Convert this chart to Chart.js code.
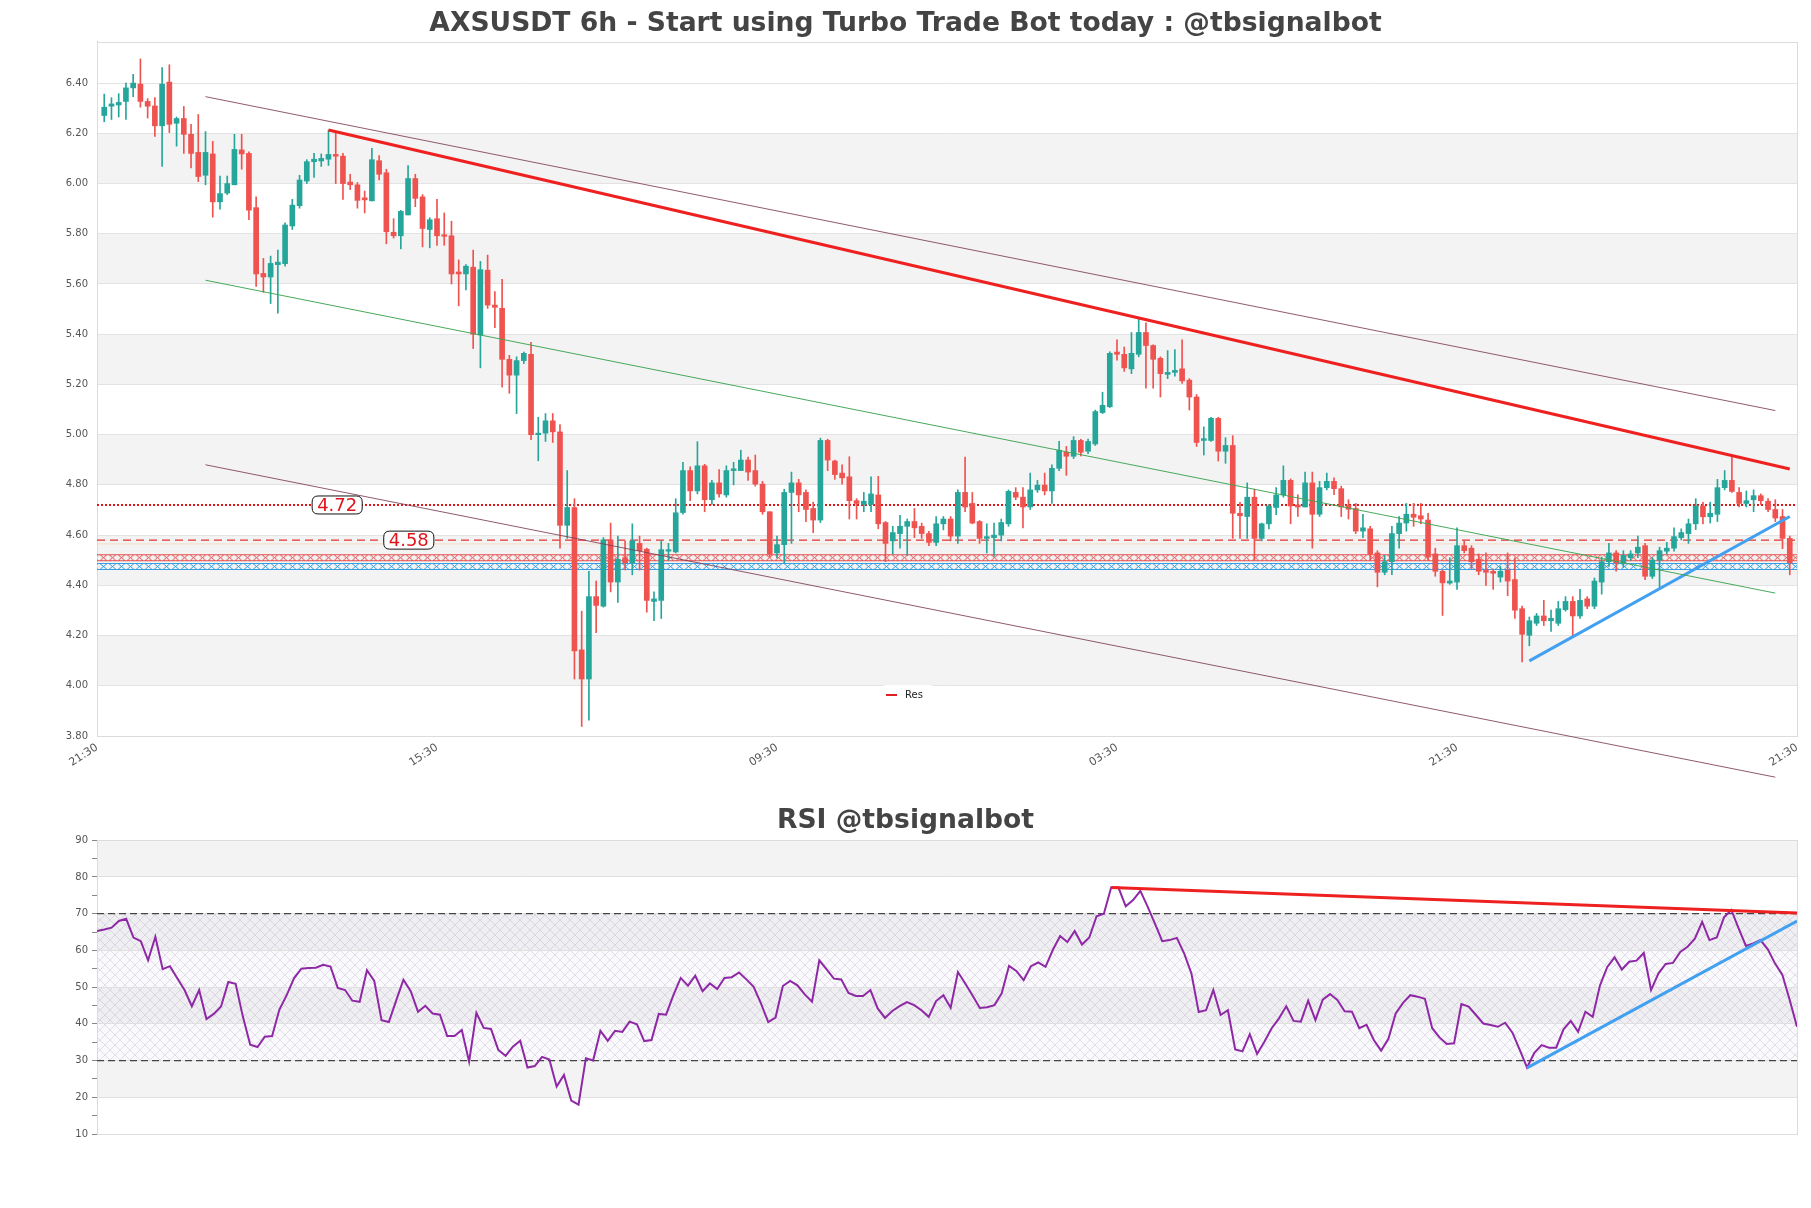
<!DOCTYPE html>
<html><head><meta charset="utf-8">
<script src="https://cdn.jsdelivr.net/npm/chart.js@4.4.0/dist/chart.umd.min.js"></script>
<style>
html,body{margin:0;padding:0;background:#fff;}
canvas{position:absolute;left:0;}
#c1{top:0;}
#c2{top:790px;}
</style></head><body>
<canvas id="c1" width="1811" height="800"></canvas>
<canvas id="c2" width="1811" height="418"></canvas>
<script>
const TITLE = 'AXSUSDT 6h - Start using Turbo Trade Bot today : @tbsignalbot';
const RSI_TITLE = 'RSI @tbsignalbot';
const LEGEND_LABEL = 'Res';

const opens = [6.271,6.308,6.313,6.327,6.381,6.396,6.327,6.309,6.230,6.404,6.24,6.259,6.196,6.124,6.033,6.118,5.927,5.962,5.995,6.134,
6.12,5.904,5.642,5.628,5.677,5.681,5.831,5.912,6.01,6.087,6.09,6.097,6.116,6.109,6.006,5.995,5.943,5.931,6.091,6.043,
5.806,5.792,5.875,6.02,5.947,5.817,5.860,5.796,5.792,5.648,5.640,5.667,5.397,5.655,5.516,5.503,5.30,5.237,5.295,5.320,
5.0,5.006,5.055,5.011,4.639,4.71,4.143,4.027,4.355,4.317,4.581,4.413,4.51,4.49,4.567,4.544,4.336,4.34,4.536,4.533,
4.69,4.857,4.776,4.876,4.741,4.808,4.76,4.857,4.857,4.899,4.857,4.803,4.693,4.529,4.562,4.77,4.808,4.77,4.706,4.66,
4.977,4.895,4.847,4.832,4.737,4.722,4.722,4.76,4.65,4.577,4.606,4.635,4.654,4.635,4.606,4.571,4.645,4.664,4.596,4.77,
4.726,4.654,4.587,4.59,4.60,4.645,4.77,4.751,4.712,4.78,4.799,4.776,4.866,4.93,4.914,4.977,4.934,4.963,5.088,5.111,
5.329,5.32,5.262,5.32,5.407,5.355,5.304,5.24,5.248,5.262,5.217,5.15,4.977,4.977,5.065,4.934,4.957,4.687,4.674,4.751,
4.587,4.645,4.71,4.76,4.818,4.72,4.712,4.808,4.683,4.789,4.814,4.785,4.718,4.706,4.616,4.625,4.529,4.452,4.494,4.606,
4.648,4.683,4.677,4.66,4.525,4.456,4.409,4.413,4.558,4.548,4.504,4.461,4.456,4.433,4.461,4.423,4.307,4.201,4.249,4.278,
4.259,4.249,4.303,4.336,4.278,4.346,4.317,4.413,4.494,4.529,4.486,4.51,4.529,4.558,4.436,4.50,4.536,4.548,4.59,4.606,
4.645,4.716,4.673,4.683,4.789,4.818,4.77,4.726,4.741,4.757,4.735,4.702,4.674,4.587];
const highs = [6.356,6.342,6.358,6.40,6.435,6.496,6.338,6.342,6.462,6.473,6.265,6.307,6.236,6.275,6.207,6.168,6.03,6.03,6.196,6.196,
6.126,5.947,5.702,5.711,5.735,5.844,5.937,6.033,6.095,6.12,6.118,6.213,6.207,6.12,6.037,6.004,5.970,6.14,6.111,6.057,
5.86,5.893,6.072,6.037,5.956,5.864,5.937,5.883,5.85,5.696,5.677,5.735,5.690,5.715,5.570,5.619,5.316,5.31,5.329,5.368,
5.069,5.084,5.084,5.04,4.857,4.745,4.297,4.456,4.417,4.59,4.648,4.596,4.577,4.645,4.596,4.548,4.374,4.577,4.567,4.745,
4.89,4.872,4.972,4.882,4.818,4.861,4.876,4.89,4.938,4.911,4.919,4.814,4.693,4.596,4.783,4.851,4.822,4.78,4.731,4.986,
4.982,4.899,4.88,4.912,4.745,4.77,4.832,4.834,4.654,4.635,4.679,4.664,4.706,4.648,4.615,4.674,4.674,4.674,4.78,4.911,
4.77,4.658,4.645,4.648,4.664,4.78,4.789,4.789,4.847,4.818,4.847,4.88,4.973,4.953,4.992,4.982,4.982,5.098,5.169,5.33,
5.378,5.349,5.407,5.459,5.445,5.358,5.31,5.335,5.339,5.378,5.223,5.16,5.031,5.069,5.069,4.988,4.996,4.731,4.808,4.783,
4.648,4.722,4.789,4.876,4.824,4.76,4.851,4.851,4.814,4.847,4.828,4.795,4.741,4.726,4.683,4.635,4.538,4.519,4.635,4.674,
4.726,4.726,4.726,4.687,4.548,4.461,4.51,4.629,4.577,4.558,4.525,4.529,4.465,4.475,4.529,4.51,4.317,4.274,4.288,4.34,
4.301,4.336,4.355,4.355,4.384,4.355,4.429,4.513,4.567,4.538,4.538,4.538,4.596,4.567,4.51,4.552,4.571,4.629,4.625,4.664,
4.745,4.731,4.731,4.822,4.857,4.918,4.789,4.776,4.78,4.764,4.745,4.741,4.702,4.596];
const lows = [6.246,6.255,6.265,6.255,6.346,6.304,6.261,6.188,6.068,6.203,6.149,6.12,6.062,6.008,5.995,5.866,5.898,5.956,5.995,6.057,
5.856,5.59,5.567,5.522,5.484,5.671,5.817,5.902,6.0,6.024,6.068,6.072,6.0,5.937,5.976,5.902,5.883,5.931,6.014,5.76,
5.783,5.74,5.875,5.908,5.748,5.744,5.754,5.754,5.60,5.513,5.576,5.343,5.266,5.503,5.426,5.189,5.165,5.084,5.283,4.98,
4.896,4.973,4.969,4.548,4.587,4.027,3.838,3.863,4.211,4.313,4.374,4.332,4.461,4.442,4.461,4.293,4.259,4.268,4.50,4.529,
4.683,4.737,4.764,4.693,4.722,4.751,4.751,4.80,4.857,4.818,4.795,4.683,4.513,4.509,4.49,4.567,4.693,4.654,4.61,4.65,
4.857,4.822,4.803,4.664,4.664,4.693,4.693,4.625,4.494,4.525,4.548,4.519,4.59,4.587,4.558,4.558,4.621,4.577,4.567,4.693,
4.645,4.567,4.529,4.515,4.577,4.635,4.741,4.629,4.702,4.77,4.76,4.726,4.857,4.838,4.905,4.915,4.924,4.957,5.084,5.108,
5.297,5.252,5.243,5.31,5.185,5.185,5.15,5.223,5.233,5.204,5.098,4.953,4.919,4.973,4.895,4.886,4.587,4.587,4.587,4.50,
4.577,4.625,4.681,4.751,4.645,4.674,4.712,4.548,4.674,4.78,4.761,4.674,4.664,4.606,4.59,4.50,4.394,4.442,4.442,4.548,
4.616,4.635,4.645,4.50,4.436,4.28,4.404,4.384,4.529,4.467,4.442,4.40,4.384,4.413,4.359,4.268,4.095,4.159,4.24,4.24,
4.216,4.24,4.297,4.196,4.268,4.307,4.307,4.365,4.475,4.456,4.471,4.50,4.51,4.423,4.427,4.392,4.525,4.536,4.581,4.567,
4.622,4.645,4.648,4.654,4.78,4.77,4.712,4.712,4.693,4.722,4.693,4.654,4.546,4.442];
const closes = [6.304,6.317,6.323,6.381,6.40,6.327,6.308,6.230,6.396,6.236,6.259,6.196,6.12,6.028,6.124,5.927,5.96,6.0,6.136,6.118,
5.894,5.64,5.628,5.682,5.687,5.835,5.914,6.014,6.087,6.097,6.10,6.116,6.109,6.0,5.995,5.933,5.935,6.095,6.037,5.808,
5.792,5.889,6.02,5.941,5.821,5.856,5.792,5.790,5.640,5.640,5.671,5.40,5.657,5.516,5.507,5.30,5.237,5.295,5.324,5.00,
5.006,5.055,5.011,4.639,4.71,4.139,4.027,4.355,4.32,4.581,4.413,4.504,4.49,4.577,4.538,4.34,4.346,4.542,4.542,4.689,
4.857,4.776,4.876,4.741,4.808,4.764,4.857,4.864,4.899,4.851,4.803,4.693,4.525,4.562,4.77,4.808,4.76,4.702,4.66,4.977,
4.899,4.841,4.828,4.737,4.726,4.735,4.764,4.645,4.567,4.61,4.635,4.654,4.629,4.606,4.571,4.645,4.664,4.596,4.77,4.712,
4.648,4.587,4.594,4.60,4.65,4.774,4.751,4.712,4.78,4.799,4.776,4.866,4.938,4.914,4.977,4.93,4.973,5.092,5.117,5.324,
5.32,5.266,5.324,5.407,5.355,5.30,5.243,5.248,5.256,5.214,5.15,4.969,4.984,5.065,4.934,4.957,4.687,4.677,4.751,4.587,
4.645,4.716,4.76,4.818,4.716,4.712,4.808,4.683,4.789,4.814,4.785,4.712,4.703,4.616,4.629,4.525,4.452,4.494,4.606,4.648,
4.683,4.671,4.664,4.513,4.456,4.41,4.417,4.558,4.538,4.494,4.456,4.452,4.448,4.456,4.417,4.301,4.205,4.259,4.278,4.259,
4.269,4.307,4.336,4.278,4.34,4.317,4.417,4.494,4.529,4.49,4.519,4.525,4.552,4.436,4.50,4.538,4.548,4.594,4.61,4.645,
4.716,4.673,4.687,4.789,4.818,4.774,4.726,4.737,4.757,4.737,4.702,4.668,4.587,4.49];

const rsi = [65.3,65.7,66.2,68.0,68.6,63.5,62.5,57.3,63.7,54.9,
55.7,52.4,49.2,44.8,49.2,41.3,42.7,44.7,51.4,50.9,
41.9,34.3,33.7,36.5,36.7,43.9,47.8,52.4,55.0,55.2,
55.3,56.1,55.6,49.8,49.2,46.3,46.0,54.6,51.7,41.0,
40.5,46.3,52.0,48.9,43.3,44.9,42.8,42.5,36.7,36.7,
38.3,29.7,43.0,38.9,38.6,32.9,31.3,33.8,35.4,28.1,
28.5,31.0,30.3,22.9,26.1,19.1,18.0,30.6,30.0,38.1,
35.4,38.1,37.8,40.6,39.9,35.3,35.6,42.7,42.5,47.8,
52.5,50.4,53.1,48.9,51.0,49.5,52.5,52.7,54.0,52.1,
50.1,45.6,40.5,41.7,50.3,51.7,50.5,48.0,46.0,57.3,
54.8,52.3,52.1,48.4,47.6,47.6,49.2,44.2,41.6,43.5,
44.8,45.9,45.1,43.7,41.9,46.2,47.8,44.4,54.1,51.0,
47.7,44.3,44.5,45.1,48.3,55.8,54.4,51.9,55.7,56.7,
55.5,60.1,63.9,62.3,65.3,61.6,63.5,69.3,70.0,77.1,
77.1,72.0,73.7,76.2,71.9,67.3,62.5,62.8,63.4,59.2,
53.7,43.2,43.7,49.2,42.4,43.7,33.0,32.5,37.2,31.8,
35.1,38.8,41.5,44.8,40.8,40.6,46.3,41.0,46.6,48.1,
46.5,43.4,43.3,38.8,39.7,35.6,32.7,35.9,42.8,45.7,
47.8,47.4,46.8,38.8,36.3,34.5,34.7,45.4,44.7,42.4,
40.1,39.7,39.2,40.3,37.6,32.9,28.1,32.1,34.2,33.5,
33.5,38.5,40.8,37.8,43.3,41.9,50.5,55.5,58.1,54.8,
56.9,57.2,59.3,49.2,53.7,56.3,56.6,59.6,61.0,63.2,
67.8,62.8,63.5,69.0,71.0,66.0,61.2,61.9,62.8,60.3,
56.4,53.3,46.5,39.2];

const xTickIndex = [-1, 46, 93, 140, 187, 234];
const xTickLabels = ['21:30','15:30','09:30','03:30','21:30','21:30'];
const priceTicks = [3.8,4.0,4.2,4.4,4.6,4.8,5.0,5.2,5.4,5.6,5.8,6.0,6.2,6.4];
const rsiTicks = [10,15,20,25,30,35,40,45,50,55,60,65,70,75,80,85,90];

// trend lines [index, price]
const resLine = [[31,6.213],[233,4.863]];
const upperChannel = [[14,6.346],[231,5.096]];
const midLine = [[14,5.615],[231,4.369]];
const lowerChannel = [[14,4.880],[231,3.636]];
const supportLine = [[197,4.099],[233,4.674]];
// horizontal levels
const levelDotted = 4.72, levelDashed = 4.58, levelFaint = 4.565, levelRedBand = 4.51, levelBlueBand = 4.475;
const levelLabels = [4.72, 4.58];
const levelLabelAt = [32.2, 42.1];
// RSI lines
const rsiRes = [[139,77.1],[233,70.2]];
const rsiSup = [[196,28.0],[233,68.0]];
const rsiLevels = [70, 30];

Chart.defaults.font.family = "'DejaVu Sans', sans-serif";
Chart.defaults.animation = false;

const GREEN = '#26a69a', RED = '#ef5350';
const N = closes.length;
const idx = closes.map((_, i) => i);
const upColor = idx.map(i => closes[i] >= opens[i] ? GREEN : RED);
const seg = (p) => p.map(([x, y]) => ({x, y}));
const hline = (v, a, b) => [{x: a, y: v}, {x: b, y: v}];

function makeXPattern(color) {
  const c = document.createElement('canvas'); c.width = 9; c.height = 7;
  const g = c.getContext('2d'); g.strokeStyle = color; g.lineWidth = 1;
  g.beginPath();
  g.moveTo(0, 0.5); g.lineTo(9, 0.5); g.moveTo(0, 6.5); g.lineTo(9, 6.5);
  g.moveTo(1, 0.5); g.lineTo(8, 6.5); g.moveTo(8, 0.5); g.lineTo(1, 6.5);
  g.stroke();
  return c;
}
const ctx1 = document.getElementById('c1').getContext('2d');
const redPat = ctx1.createPattern(makeXPattern('rgba(230,60,60,0.9)'), 'repeat');
const bluePat = ctx1.createPattern(makeXPattern('rgba(40,150,225,0.9)'), 'repeat');

function roundRect(ctx, x, y, w, h, r) {
  ctx.beginPath();
  ctx.moveTo(x + r, y); ctx.lineTo(x + w - r, y); ctx.quadraticCurveTo(x + w, y, x + w, y + r);
  ctx.lineTo(x + w, y + h - r); ctx.quadraticCurveTo(x + w, y + h, x + w - r, y + h);
  ctx.lineTo(x + r, y + h); ctx.quadraticCurveTo(x, y + h, x, y + h - r);
  ctx.lineTo(x, y + r); ctx.quadraticCurveTo(x, y, x + r, y); ctx.closePath();
}

const bandPlugin = {
  id: 'bands',
  beforeDraw(chart, args, opts) {
    const {ctx, chartArea: a, scales: {y}} = chart;
    const t = opts.ticks;
    ctx.save();
    ctx.fillStyle = '#f3f3f3';
    for (let k = 1; k + 1 < t.length; k += 2) {
      const y1 = y.getPixelForValue(t[k + 1]), y2 = y.getPixelForValue(t[k]);
      ctx.fillRect(a.left, y1, a.right - a.left, y2 - y1);
    }
    if (opts.hatch) {
      const y1 = y.getPixelForValue(opts.hatch[0]), y2 = y.getPixelForValue(opts.hatch[1]);
      ctx.fillStyle = 'rgba(205,195,225,0.10)';
      ctx.fillRect(a.left, y1, a.right - a.left, y2 - y1);
      const pc = document.createElement('canvas'); pc.width = 10; pc.height = 10;
      const g = pc.getContext('2d'); g.strokeStyle = 'rgba(170,160,195,0.45)'; g.lineWidth = 0.7;
      g.beginPath(); g.moveTo(0, 0); g.lineTo(10, 10); g.moveTo(10, 0); g.lineTo(0, 10); g.stroke();
      ctx.fillStyle = ctx.createPattern(pc, 'repeat');
      ctx.fillRect(a.left, y1, a.right - a.left, y2 - y1);
    }
    ctx.restore();
  },
  beforeDatasetsDraw(chart) {
    const {ctx, chartArea: a} = chart;
    ctx.save(); ctx.strokeStyle = '#dcdcdc'; ctx.lineWidth = 1;
    ctx.strokeRect(Math.round(a.left) + 0.5, Math.round(a.top) + 0.5, Math.round(a.right - a.left), Math.round(a.bottom - a.top));
    ctx.restore();
    const y = chart.scales.y;
    if (chart.canvas.id === 'c1') {
      const yr = y.getPixelForValue(levelRedBand), yb = y.getPixelForValue(levelBlueBand);
      redPat.setTransform(new DOMMatrix([1, 0, 0, 1, 0, yr - 3.5]));
      bluePat.setTransform(new DOMMatrix([1, 0, 0, 1, 0, yb - 3.5]));
    }
  }
};

const labelPlugin = {
  id: 'levelLabels',
  afterDatasetsDraw(chart) {
    if (chart.canvas.id !== 'c1') return;
    const {ctx, scales: {x, y}, chartArea: a} = chart;
    ctx.save();
    ctx.font = "18px 'DejaVu Sans'";
    ctx.textAlign = 'center'; ctx.textBaseline = 'middle';
    levelLabels.forEach((v, k) => {
      const px = x.getPixelForValue(levelLabelAt[k]), py = y.getPixelForValue(v);
      const txt = v.toFixed(2);
      const w = ctx.measureText(txt).width + 10, h = 18;
      roundRect(ctx, px - w / 2, py - h / 2, w, h, 6);
      ctx.fillStyle = '#fff'; ctx.fill();
      ctx.strokeStyle = '#111'; ctx.lineWidth = 1; ctx.stroke();
      ctx.fillStyle = '#e0151b'; ctx.fillText(txt, px, py + 1);
    });
    // legend
    const lx = a.left + 785, ly = a.bottom - 42;
    roundRect(ctx, lx, ly - 9, 52, 18, 4);
    ctx.fillStyle = 'rgba(255,255,255,0.95)'; ctx.fill();
    ctx.strokeStyle = '#e02020'; ctx.lineWidth = 2;
    ctx.beginPath(); ctx.moveTo(lx + 4, ly + 1); ctx.lineTo(lx + 15, ly + 1); ctx.stroke();
    ctx.fillStyle = '#222'; ctx.font = "10px 'DejaVu Sans'"; ctx.textAlign = 'left';
    ctx.fillText(LEGEND_LABEL, lx + 23, ly + 1);
    ctx.restore();
  }
};

const lineDS = (data, color, width, extra) => Object.assign({
  type: 'line', data, borderColor: color, borderWidth: width, pointRadius: 0, fill: false, tension: 0
}, extra || {});

// invisible right-side spacer axis so the title stays centred on the full canvas
const spacerAxis = {position: 'right', display: true, afterFit: s => { s.width = 14; },
  ticks: {display: false}, grid: {display: false, drawTicks: false}, border: {display: false}};

new Chart(ctx1, {
  type: 'bar',
  data: {
    datasets: [
      lineDS(seg(resLine), 'rgb(238,32,32)', 3, {order: 0}),
      lineDS(seg(upperChannel), 'rgba(125,60,85,0.85)', 1, {order: 0}),
      lineDS(seg(midLine), 'rgba(60,165,80,0.95)', 1, {order: 0}),
      lineDS(seg(lowerChannel), 'rgba(125,60,85,0.85)', 1, {order: 0, clip: false}),
      lineDS(seg(supportLine), 'rgb(66,160,240)', 3, {order: 0}),
      {label: 'body', data: idx.map(i => ({x: i, y: [opens[i], closes[i]]})), backgroundColor: upColor,
       barThickness: 5, minBarLength: 1, grouped: false, order: 1},
      {label: 'wick', data: idx.map(i => ({x: i, y: [lows[i], highs[i]]})), backgroundColor: upColor,
       barThickness: 1, grouped: false, order: 2},
      lineDS(hline(levelDotted, -1, N), 'rgb(220,20,20)', 2, {borderDash: [2, 2], order: 3}),
      lineDS(hline(levelDashed, -1, N), 'rgb(228,50,50)', 1.2, {borderDash: [8, 5], order: 3}),
      lineDS(hline(levelFaint, -1, N), 'rgba(255,190,140,0.45)', 1, {order: 3}),
      lineDS(hline(levelRedBand, -1, N), redPat, 7, {order: 3, borderCapStyle: 'butt'}),
      lineDS(hline(levelBlueBand, -1, N), bluePat, 7, {order: 3, borderCapStyle: 'butt'})
    ]
  },
  options: {
    responsive: false,
    layout: {padding: {left: 0, right: 0, top: 0, bottom: 14}},
    plugins: {
      legend: {display: false}, tooltip: {enabled: false},
      title: {display: true, text: TITLE, color: '#444', font: {size: 26.6, weight: 'bold'}, padding: {top: 8, bottom: 2}},
      bands: {ticks: priceTicks}
    },
    scales: {
      x: {
        type: 'linear', min: -1, max: N, offset: false,
        afterBuildTicks: s => { s.ticks = xTickIndex.map(v => ({value: v})); },
        afterFit: s => { s.height = 50; },
        ticks: {autoSkip: false, minRotation: 33, maxRotation: 33, color: '#555', font: {size: 11}, padding: 5,
          callback: v => { const k = xTickIndex.indexOf(v); return k >= 0 ? xTickLabels[k] : ''; }},
        grid: {display: false, drawTicks: false, offset: false},
        border: {display: false}
      },
      y: {
        min: 3.8, max: 6.564,
        afterBuildTicks: s => { s.ticks = priceTicks.map(v => ({value: v})); },
        afterFit: s => { s.width = 97; },
        ticks: {color: '#555', font: {size: 10}, padding: 9, callback: v => Number(v).toFixed(2)},
        grid: {color: '#e3e3e3', drawTicks: false},
        border: {display: true, color: '#d0d0d0'}
      },
      yR: spacerAxis
    }
  },
  plugins: [bandPlugin, labelPlugin]
});

const ctx2 = document.getElementById('c2').getContext('2d');
new Chart(ctx2, {
  type: 'line',
  data: {
    datasets: [
      lineDS(seg(rsiRes), 'rgb(238,32,32)', 3, {order: 0}),
      lineDS(seg(rsiSup), 'rgb(66,160,240)', 3, {order: 0}),
      lineDS(rsi.map((v, i) => ({x: i, y: v})), 'rgb(142,40,165)', 2, {order: 1}),
      lineDS(hline(rsiLevels[0], 0, N - 1), '#444', 1.2, {borderDash: [7, 4], order: 2}),
      lineDS(hline(rsiLevels[1], 0, N - 1), '#444', 1.2, {borderDash: [7, 4], order: 2})
    ]
  },
  options: {
    responsive: false,
    layout: {padding: {left: 0, right: 0, top: 0, bottom: 74}},
    plugins: {
      legend: {display: false}, tooltip: {enabled: false},
      title: {display: true, text: RSI_TITLE, color: '#444', font: {size: 26.6, weight: 'bold'}, padding: {top: 15, bottom: 3.3}},
      bands: {ticks: rsiTicks.filter(v => v % 10 === 0), hatch: [rsiLevels[0], rsiLevels[1]]}
    },
    scales: {
      x: {type: 'linear', min: 0, max: N - 1, display: false},
      y: {
        min: 10, max: 90,
        afterBuildTicks: s => { s.ticks = rsiTicks.map(v => ({value: v})); },
        afterFit: s => { s.width = 97; },
        ticks: {color: '#555', font: {size: 10}, padding: 4, callback: v => (v % 10 === 0 ? String(v) : '')},
        grid: {color: c => (c.tick && c.tick.value % 10 === 0 ? '#e0e0e0' : 'rgba(0,0,0,0)'), tickColor: '#888', tickLength: 5, drawTicks: true},
        border: {display: true, color: '#d0d0d0'}
      },
      yR: spacerAxis
    }
  },
  plugins: [bandPlugin]
});
</script>
</body></html>
